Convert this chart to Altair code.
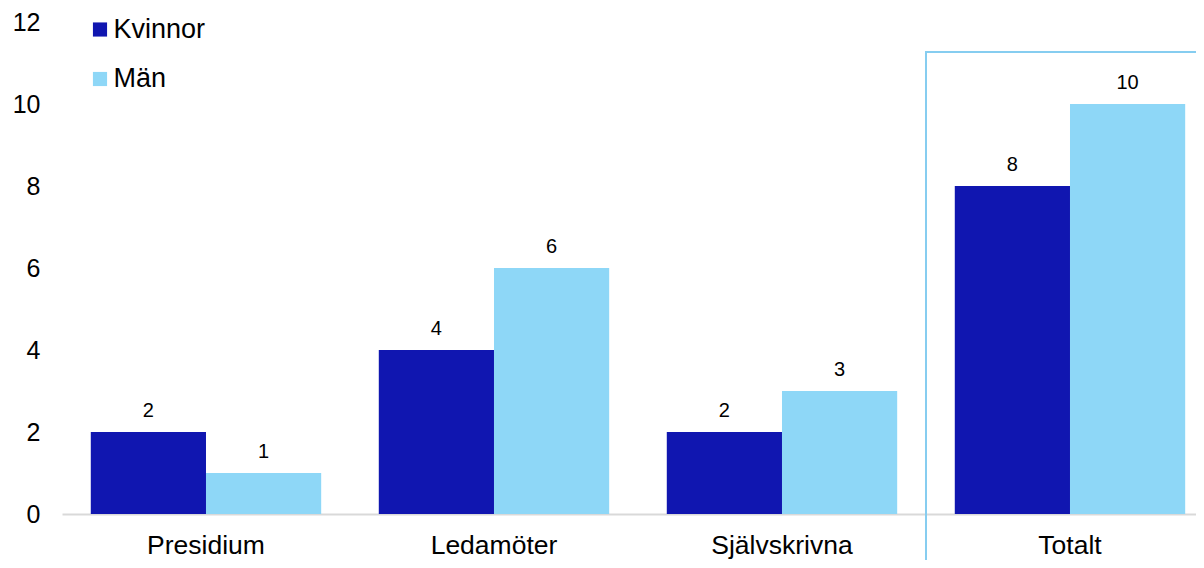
import altair as alt
import pandas as pd

categories = ["Presidium", "Ledamöter", "Självskrivna", "Totalt"]
kvinnor = [2, 4, 2, 8]
man = [1, 6, 3, 10]
series = ["Kvinnor", "Män"]
colors = ["#1016B0", "#8ED7F7"]
yticks = [0, 2, 4, 6, 8, 10, 12]

rows = []
for c, k, m in zip(categories, kvinnor, man):
    rows.append({"cat": c, "serie": "Kvinnor", "v": k})
    rows.append({"cat": c, "serie": "Män", "v": m})
df = pd.DataFrame(rows)

box_df = pd.DataFrame([{"cat": "Totalt", "top": 11.27, "bottom": -2}])

FONT = "Liberation Sans"

xscale = alt.Scale(domain=categories, paddingInner=0.2, paddingOuter=0.06875, align=0.727)
yscale = alt.Scale(domain=[0, 12])

base = alt.Chart(df)

bars = base.mark_bar().encode(
    x=alt.X("cat:N", scale=xscale, sort=categories, title=None),
    xOffset=alt.XOffset("serie:N", sort=series),
    y=alt.Y("v:Q", scale=yscale, title=None, axis=alt.Axis(values=yticks)),
    color=alt.Color("serie:N", sort=series,
                    scale=alt.Scale(domain=series, range=colors),
                    legend=alt.Legend(title=None, orient="none", legendX=24.5, legendY=-6,
                                      symbolType="square", symbolSize=200, symbolStrokeWidth=0,
                                      labelFontSize=27, labelFont=FONT, labelColor="#000000",
                                      rowPadding=21.5, labelOffset=0)),
)

labels = base.mark_text(baseline="alphabetic", dy=-15, fontSize=20, font=FONT, color="#000000").encode(
    x=alt.X("cat:N", scale=xscale, sort=categories, title=None),
    xOffset=alt.XOffset("serie:N", sort=series),
    y=alt.Y("v:Q", scale=yscale, title=None, axis=alt.Axis(values=yticks)),
    text=alt.Text("v:Q"),
)

box = alt.Chart(box_df).mark_rect(filled=False, stroke="#86CDF0", strokeWidth=2,
                                   xOffset=-28.8, x2Offset=120).encode(
    x=alt.X("cat:N", scale=xscale, sort=categories, bandPosition=0, title=None),
    x2=alt.X2("cat", bandPosition=1),
    y=alt.Y("top:Q", scale=yscale, title=None, axis=alt.Axis(values=yticks)),
    y2=alt.Y2("bottom:Q"),
)

chart = alt.layer(bars, labels, box).properties(
    width=1134, height=492,
    autosize=alt.AutoSizeParams(type="none"),
    padding={"left": 54, "top": 14, "right": 0, "bottom": 46},
).configure(font=FONT).configure_view(strokeWidth=0, stroke="transparent").configure_axisX(
    labelAngle=0, ticks=False, grid=False, domainColor="#d9d9d9", domainWidth=2,
    labelFontSize=26.5, labelPadding=18, labelColor="#000000", labelFont=FONT,
).configure_axisY(
    grid=False, domain=False, ticks=False, labelFontSize=25, labelPadding=22,
    labelColor="#000000", labelFont=FONT,
)

chart.save("out.html", embed_options={"renderer": "svg", "actions": False})
